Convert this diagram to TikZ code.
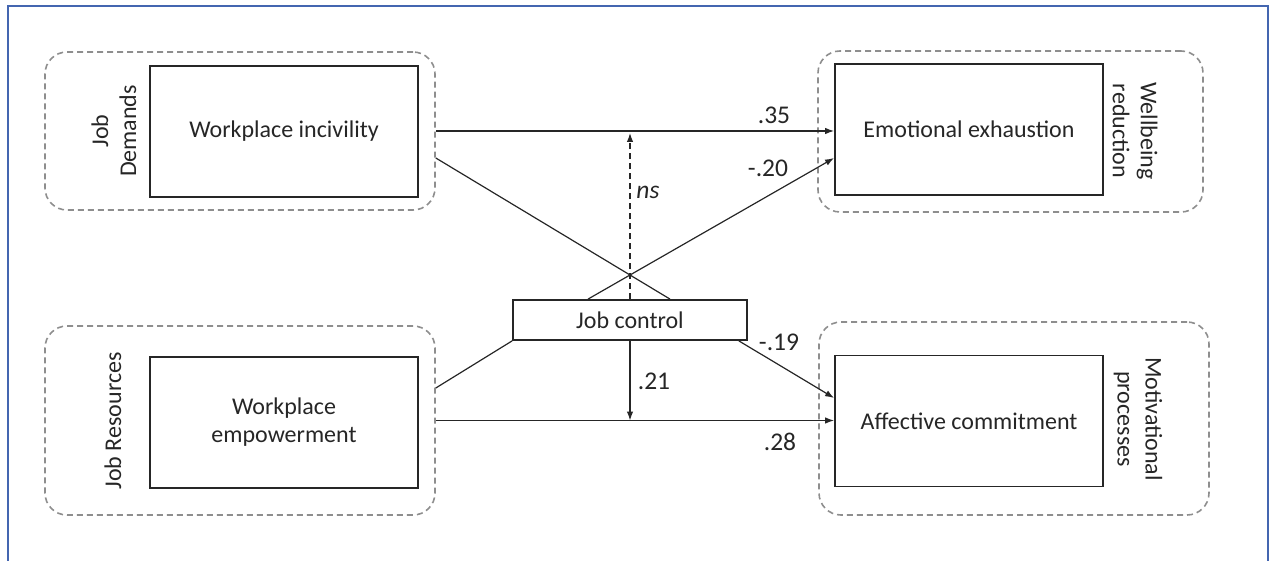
\documentclass[tikz,border=0pt]{standalone}
\usepackage{fontspec}
\setmainfont{Carlito}
\usetikzlibrary{arrows.meta,calc}
\definecolor{framec}{HTML}{4466B0}
\definecolor{dashc}{HTML}{8E8E8E}
\definecolor{inkc}{HTML}{262626}
\tikzset{
  varbox/.style={draw=inkc, line width=1.8pt, minimum width=268pt, minimum height=131pt, inner sep=0pt, align=center, font=\fontsize{24}{28}\selectfont, text=inkc},
  groupbox/.style={draw=dashc, line width=1.6pt, dash pattern=on 6pt off 4pt, rounded corners=22pt},
  grouplabel/.style={align=center, font=\fontsize{24}{28}\selectfont, text=inkc},
  conn/.style={draw=inkc, line width=1.2pt},
  arr/.style={conn, -{Latex[length=9pt,width=6.5pt]}},
  coef/.style={font=\fontsize{25.5}{29}\selectfont, text=inkc, inner sep=0pt},
}
\begin{document}
\begin{tikzpicture}[x=1pt,y=-1pt]
\useasboundingbox (0,0) rectangle (1271,561);
% frame (open at bottom)
\draw[framec, line width=2pt] (7.5,562) -- (7.5,6.5) -- (1267.5,6.5) -- (1267.5,562);

% group boxes
\node[groupbox, minimum width=390pt, minimum height=158pt] (gd) at (240,131) {};
\node[groupbox, minimum width=390pt, minimum height=189pt] (gr) at (240,420.5) {};
\node[groupbox, minimum width=385pt, minimum height=161pt] (gw) at (1010.5,131.5) {};
\node[groupbox, minimum width=390pt, minimum height=193pt] (gm) at (1014,418.5) {};

% variable boxes
\node[varbox] (inc) at (284,131.5) {Workplace incivility};
\node[varbox] (emp) at (284,422.5) {Workplace\\empowerment};
\node[varbox] (exh) at (969,129.5) {Emotional exhaustion};
\node[varbox] (aff) at (969,421) {Affective commitment};
\node[varbox, minimum width=234pt, minimum height=40pt] (jc) at (630,320) {Job control};

% group labels
\node[grouplabel, rotate=90] (ljd) at (114,131) {Job\\Demands};
\node[grouplabel, rotate=90] (ljr) at (113,421) {Job Resources};
\node[grouplabel, rotate=-90] (lwr) at (1135,131) {Wellbeing\\reduction};
\node[grouplabel, rotate=-90] (lmp) at (1138,419) {Motivational\\processes};

% connectors
\draw[arr] (gd.east) -- (gd.east -| exh.west);
\draw[conn] ([yshift=-27pt]gd.east) -- ([xshift=40pt]jc.north);
\draw[arr] ([xshift=-42pt]jc.north) -- ([yshift=-28.5pt]exh.west);
\draw[arr, dashed, dash pattern=on 6pt off 4pt] (jc.north) -- ([yshift=-2pt]jc.north |- gd.east);
\draw[conn] (jc.south west) -- ([yshift=32.5pt]gr.east);
\draw[arr] (gr.east) -- (gr.east -| aff.west);
\draw[arr] ([xshift=-9pt]jc.south east) -- ([yshift=23pt]aff.west);
\draw[arr] (jc.south) -- (jc.south |- gr.east);

% coefficients
\node[coef] (c35) at (774,115) {.35};
\node[coef] (c20) at (768,168) {-.20};
\node[coef] (cns) at (648,192) {\itshape ns};
\node[coef] (c19) at (779,342) {-.19};
\node[coef] (c21) at (654,381) {.21};
\node[coef] (c28) at (780,442) {.28};
\end{tikzpicture}
\end{document}
